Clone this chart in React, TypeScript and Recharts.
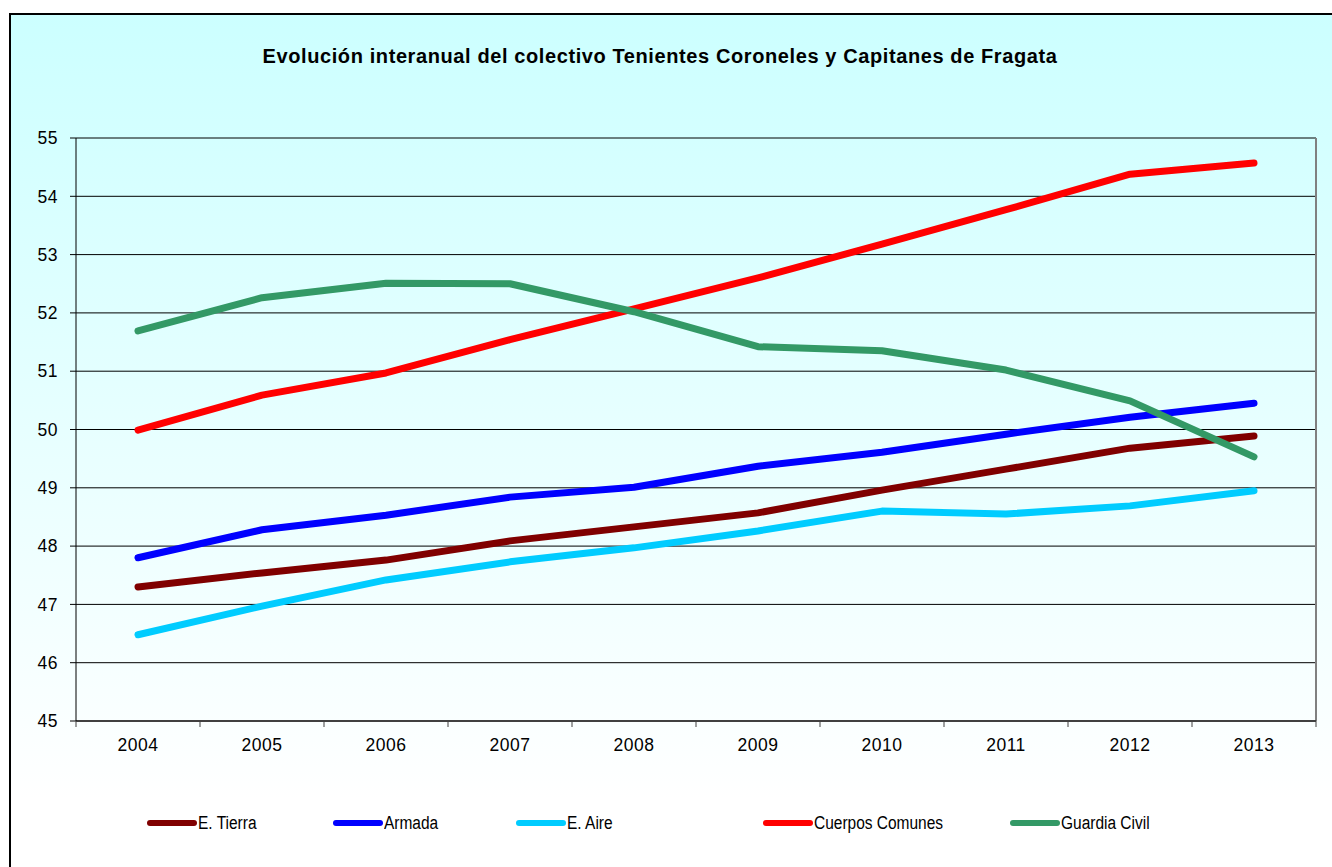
import React from 'react';
import { LineChart, Line, XAxis, YAxis, CartesianGrid } from 'recharts';

const categories = ['2004', '2005', '2006', '2007', '2008', '2009', '2010', '2011', '2012', '2013'];
const eTierra = [47.30, 47.54, 47.76, 48.09, 48.33, 48.57, 48.96, 49.32, 49.68, 49.89];
const armada = [47.80, 48.28, 48.53, 48.84, 49.01, 49.37, 49.61, 49.92, 50.21, 50.45];
const eAire = [46.48, 46.97, 47.42, 47.73, 47.97, 48.26, 48.60, 48.55, 48.69, 48.95];
const cuerposComunes = [49.99, 50.59, 50.97, 51.54, 52.07, 52.60, 53.18, 53.77, 54.38, 54.57];
const guardiaCivil = [51.69, 52.26, 52.51, 52.50, 52.02, 51.42, 51.35, 51.02, 50.49, 49.53];
const yTicks = [45, 46, 47, 48, 49, 50, 51, 52, 53, 54, 55];

const seriesNames = ['E. Tierra', 'Armada', 'E. Aire', 'Cuerpos Comunes', 'Guardia Civil'];
const seriesValues = [eTierra, armada, eAire, cuerposComunes, guardiaCivil];
const seriesColors = ['#800000', '#0000FF', '#00CCFF', '#FF0000', '#339966'];
const seriesKeys = ['eTierra', 'armada', 'eAire', 'cuerpos', 'guardia'];

const data = categories.map((year, i) => {
  const row: Record<string, any> = { year };
  seriesKeys.forEach((k, s) => {
    row[k] = seriesValues[s][i];
  });
  return row;
});

const CHART_W = 1321;
const CHART_H = 852;
const MARGIN = { top: 123, right: 16, bottom: 116, left: 0 };
const Y_AXIS_W = 65;
const PLOT_W = CHART_W - MARGIN.left - MARGIN.right - Y_AXIS_W;
const HALF_BAND = PLOT_W / categories.length / 2;
const FONT = '"Liberation Sans", Arial, sans-serif';

const legendLeft = [136, 322, 505, 752, 999];

const XTick = (props: any) => {
  const { x, y, payload, index } = props;
  const last = index === categories.length - 1;
  return (
    <g>
      <line x1={x - HALF_BAND} x2={x - HALF_BAND} y1={y} y2={y + 6} stroke="#404040" strokeWidth={1} />
      {last && <line x1={x + HALF_BAND} x2={x + HALF_BAND} y1={y} y2={y + 6} stroke="#404040" strokeWidth={1} />}
      <text x={x} y={y + 30} textAnchor="middle" fill="#000" fontSize={17.5} fontFamily={FONT} letterSpacing={0.5}>
        {payload.value}
      </text>
    </g>
  );
};

export default function App() {
  return (
    <div
      style={{
        position: 'absolute',
        left: 9,
        top: 13,
        width: CHART_W,
        height: CHART_H,
        borderLeft: '2px solid #000',
        borderTop: '2px solid #000',
        background: 'linear-gradient(to bottom, #CCFFFF 0%, #FFFFFF 92%)',
        fontFamily: FONT,
        overflow: 'hidden',
      }}
    >
      <div
        style={{
          position: 'absolute',
          left: 0,
          top: 31,
          width: 1298,
          textAlign: 'center',
          fontSize: 20,
          fontWeight: 'bold',
          lineHeight: '20px',
          letterSpacing: 0.6,
          color: '#000',
        }}
      >
        Evolución interanual del colectivo Tenientes Coroneles y Capitanes de Fragata
      </div>
      <LineChart width={CHART_W} height={CHART_H} data={data} margin={MARGIN}>
        <CartesianGrid horizontal={true} vertical={false} stroke="#000" strokeOpacity={1} />
        <CartesianGrid
          horizontal={false}
          vertical={true}
          stroke="#808080"
          strokeWidth={2}
          verticalCoordinatesGenerator={({ offset }: any) => [offset.left + offset.width]}
        />
        <XAxis
          dataKey="year"
          scale="band"
          interval={0}
          tickLine={false}
          tickSize={0}
          tickMargin={0}
          height={30}
          axisLine={{ stroke: '#404040', strokeWidth: 2 }}
          tick={<XTick />}
        />
        <YAxis
          domain={[45, 55]}
          ticks={yTicks}
          interval={0}
          width={Y_AXIS_W}
          tickSize={6}
          tickMargin={12}
          axisLine={{ stroke: '#000', strokeWidth: 1 }}
          tickLine={{ stroke: '#000' }}
          tick={{ fill: '#000', fontSize: 17.5, fontFamily: FONT, letterSpacing: 0.5 }}
        />
        {seriesKeys.map((k, s) => (
          <Line
            key={k}
            dataKey={k}
            name={seriesNames[s]}
            stroke={seriesColors[s]}
            strokeWidth={7}
            strokeLinecap="round"
            strokeLinejoin="round"
            dot={false}
            activeDot={false}
            isAnimationActive={false}
          />
        ))}
      </LineChart>
      {seriesNames.map((name, s) => (
        <div
          key={name}
          style={{
            position: 'absolute',
            left: legendLeft[s],
            top: 798,
            height: 20,
            display: 'flex',
            alignItems: 'center',
            whiteSpace: 'nowrap',
          }}
        >
          <div style={{ width: 50, height: 6, borderRadius: 3, background: seriesColors[s], marginRight: 1, flexShrink: 0 }} />
          <span style={{ fontSize: 18, color: '#000', display: 'inline-block', transform: 'scaleX(0.86)', transformOrigin: 'left center' }}>{name}</span>
        </div>
      ))}
    </div>
  );
}
